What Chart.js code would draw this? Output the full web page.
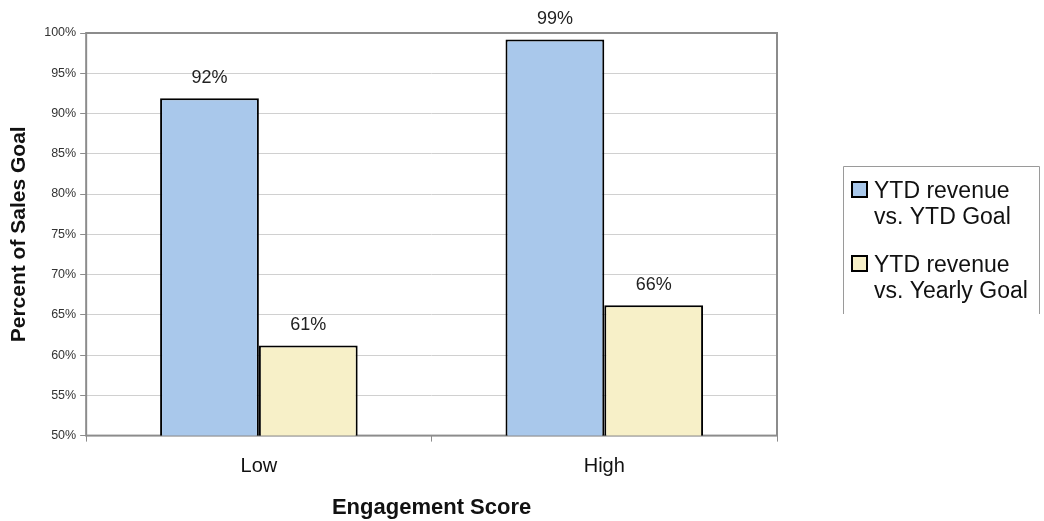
<!DOCTYPE html>
<html>
<head>
<meta charset="utf-8">
<script src="https://cdn.jsdelivr.net/npm/chart.js@4.4.1/dist/chart.umd.min.js"></script>
<style>
  html, body { margin: 0; padding: 0; background: #fff; }
  #wrap { width: 1044px; height: 521px; position: relative; }
</style>
</head>
<body>
<div id="wrap"><canvas id="salesChart"></canvas></div>
<script>
const categories = ['Low', 'High'];
const seriesNames = [['YTD revenue', 'vs. YTD Goal'], ['YTD revenue', 'vs. Yearly Goal']];
const ytdGoal = [91.9, 99.2];
const yearlyGoal = [61.2, 66.2];
const pointLabels = [['92%', '99%'], ['61%', '66%']];
const yTicks = [50, 55, 60, 65, 70, 75, 80, 85, 90, 95, 100];

// marco gris del área de trazado
const plotFrame = {
    id: 'plotFrame',
    beforeDatasetsDraw(chart) {
        const a = chart.chartArea, ctx = chart.ctx;
        ctx.save();
        ctx.strokeStyle = '#8c8c8c';
        ctx.lineWidth = 2;
        ctx.strokeRect(a.left, a.top, a.right - a.left, a.bottom - a.top);
        ctx.restore();
    }
};

// etiquetas encima de cada barra
const barLabels = {
    id: 'barLabels',
    afterDatasetsDraw(chart) {
        const ctx = chart.ctx;
        ctx.save();
        ctx.font = '18px Arial, "Liberation Sans"';
        ctx.fillStyle = '#222';
        ctx.textAlign = 'center';
        ctx.textBaseline = 'alphabetic';
        chart.data.datasets.forEach(function (ds, i) {
            chart.getDatasetMeta(i).data.forEach(function (bar, j) {
                ctx.fillText(pointLabels[i][j], bar.x, bar.y - 15);
            });
        });
        ctx.restore();
    }
};

// leyenda a la derecha con texto en dos líneas
const sideLegend = {
    id: 'sideLegend',
    afterDraw(chart) {
        const ctx = chart.ctx;
        const x0 = 843, y0 = 166, w = 197, h = 148;
        ctx.save();
        ctx.strokeStyle = '#9a9a9a';
        ctx.lineWidth = 1;
        ctx.beginPath();
        ctx.moveTo(x0 + 0.5, y0 + h);
        ctx.lineTo(x0 + 0.5, y0 + 0.5);
        ctx.lineTo(x0 + w - 0.5, y0 + 0.5);
        ctx.lineTo(x0 + w - 0.5, y0 + h);
        ctx.stroke();
        ctx.font = '23px Arial, "Liberation Sans"';
        ctx.textBaseline = 'alphabetic';
        chart.data.datasets.forEach(function (ds, i) {
            const base = y0 + 32 + i * 74;
            ctx.fillStyle = ds.backgroundColor;
            ctx.fillRect(x0 + 9, base - 16, 15, 15);
            ctx.strokeStyle = '#000';
            ctx.lineWidth = 2;
            ctx.strokeRect(x0 + 9, base - 16, 15, 15);
            ctx.fillStyle = '#111';
            seriesNames[i].forEach(function (line, k) {
                ctx.fillText(line, x0 + 31, base + k * 26);
            });
        });
        ctx.restore();
    }
};

const ctx = document.getElementById('salesChart').getContext('2d');
const salesChart = new Chart(ctx, {
    type: 'bar',
    data: {
        labels: categories,
        datasets: [{
            label: seriesNames[0].join(' '),
            data: ytdGoal,
            backgroundColor: '#a9c8eb',
            borderColor: '#000',
            borderWidth: 2,
            borderSkipped: 'bottom'
        }, {
            label: seriesNames[1].join(' '),
            data: yearlyGoal,
            backgroundColor: '#f7f0c8',
            borderColor: '#000',
            borderWidth: 2,
            borderSkipped: 'bottom'
        }]
    },
    options: {
        responsive: true,
        maintainAspectRatio: false,
        animation: false,
        categoryPercentage: 0.572,
        barPercentage: 1,
        layout: { padding: { top: 33, right: 267, left: 0, bottom: 0 } },
        plugins: {
            legend: { display: false },
            tooltip: { enabled: false }
        },
        scales: {
            x: {
                grid: { drawOnChartArea: false, drawTicks: true, tickLength: 6, color: '#8c8c8c' },
                border: { display: false },
                ticks: { color: '#111', font: { family: 'Arial', size: 20 }, padding: 13 },
                title: {
                    display: true,
                    text: 'Engagement Score',
                    color: '#111',
                    font: { family: 'Arial', size: 22, weight: 'bold' },
                    padding: { top: 3, bottom: 0 }
                }
            },
            y: {
                min: 50,
                max: 100,
                afterBuildTicks(axis) { axis.ticks = yTicks.map(v => ({ value: v })); },
                grid: { color: '#d0d0d0', lineWidth: 1, tickLength: 6, tickColor: '#8c8c8c' },
                border: { display: false },
                ticks: {
                    color: '#333',
                    font: { family: 'Arial', size: 12.5 },
                    padding: 4,
                    callback: v => v + '%'
                },
                title: {
                    display: true,
                    text: 'Percent of Sales Goal',
                    color: '#111',
                    font: { family: 'Arial', size: 21, weight: 'bold' },
                    padding: { top: 7, bottom: 8 }
                }
            }
        }
    },
    plugins: [plotFrame, barLabels, sideLegend]
});
</script>
</body>
</html>
